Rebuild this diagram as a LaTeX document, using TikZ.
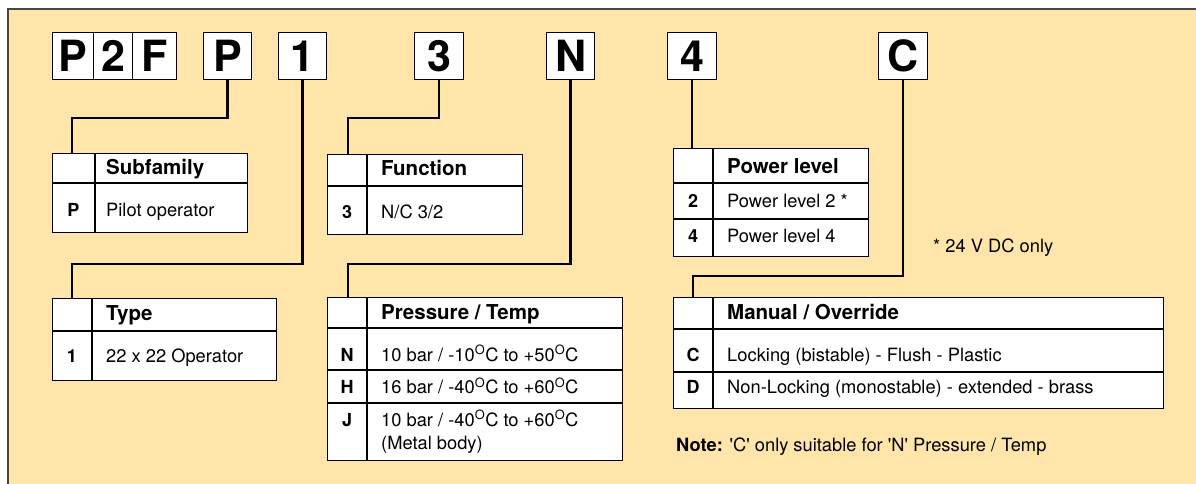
\documentclass[tikz,border=0pt]{standalone}
\usepackage{fontspec}
\setmainfont{TeX Gyre Heros}[Ligatures=TeXOff]
\definecolor{bgc}{RGB}{255,229,170}
\definecolor{framec}{RGB}{70,70,70}
\begin{document}
\begin{tikzpicture}[x=1pt,y=-1pt,
  keybox/.style={draw=black, line width=1.2pt, fill=white, inner sep=0pt, anchor=north west,
    minimum height=47pt, font=\fontsize{43}{43}\selectfont\bfseries, text height=31pt, text depth=0pt},
  tbl/.style={draw=black, line width=1.2pt, fill=white, inner sep=0pt, anchor=north west},
  tline/.style={draw=black, line width=1.1pt},
  conn/.style={draw=black, line width=2.4pt},
  txt/.style={inner sep=0pt, anchor=west, text height=13pt, text depth=0pt, font=\fontsize{18.3}{21}\selectfont},
  htxt/.style={inner sep=0pt, anchor=west, text height=14.7pt, text depth=0pt, font=\fontsize{20.5}{23}\selectfont\bfseries},
  ctxt/.style={inner sep=0pt, anchor=center, text height=13pt, text depth=0pt, font=\fontsize{18}{21}\selectfont\bfseries},
]
\useasboundingbox (0,0) rectangle (1196,484);
\clip (0,0) rectangle (1196,484);
\fill[white] (0,0) rectangle (1196,484);
\draw[fill=bgc, draw=framec, line width=1.5pt] (8,9) rectangle (1220,510);

% key boxes
\node[keybox, minimum width=41pt] (k1) at (52,32) {P};
\node[keybox, minimum width=39pt] (k2) at (93,32) {2};
\node[keybox, minimum width=44pt] (k3) at (132,32) {F};
\node[keybox, minimum width=48pt] (kP) at (203,32) {P};
\node[keybox, minimum width=48pt] (kOne) at (278,32) {1};
\node[keybox, minimum width=49pt] (kThree) at (414,32) {3};
\node[keybox, minimum width=48pt] (kN) at (546,32) {N};
\node[keybox, minimum width=49pt] (kFour) at (667,32) {4};
\node[keybox, minimum width=49pt] (kC) at (878,32) {C};

% tables
\node[tbl, minimum width=195pt, minimum height=79pt] (sub) at (52,153) {};
\draw[tline] (95,153) -- (95,232);
\draw[tline] (52,183) -- (247,183);
\node[htxt] (subh) at (106,167) {Subfamily};
\node[ctxt] (subc) at (73.5,209.5) {P};
\node[txt] (subt) at (106,209.5) {Pilot operator};

\node[tbl, minimum width=224pt, minimum height=82pt] (typ) at (52,298) {};
\draw[tline] (92,298) -- (92,380);
\draw[tline] (52,331) -- (276,331);
\node[htxt] (typh) at (106,313) {Type};
\node[ctxt] (typc) at (72,355.5) {1};
\node[txt] (typt) at (106,355.5) {22 x 22 Operator};

\node[tbl, minimum width=195pt, minimum height=80pt] (fun) at (327,154) {};
\draw[tline] (367,154) -- (367,234);
\draw[tline] (327,186) -- (522,186);
\node[htxt] (funh) at (381,168.5) {Function};
\node[ctxt] (func) at (347,211.5) {3};
\node[txt] (funt) at (381,211.5) {N/C 3/2};

\node[tbl, minimum width=295pt, minimum height=163pt] (pre) at (327,297) {};
\draw[tline] (367,297) -- (367,460);
\draw[tline] (327,328) -- (622,328);
\draw[tline] (327,370) -- (622,370);
\draw[tline] (327,403) -- (622,403);
\node[htxt] (preh) at (381,312) {Pressure / Temp};
\node[ctxt] (prec1) at (347,354.5) {N};
\node[txt] (pret1) at (381,354.5) {10 bar / -10\textsuperscript{O}C to +50\textsuperscript{O}C};
\node[ctxt] (prec2) at (347,387) {H};
\node[txt] (pret2) at (381,387) {16 bar / -40\textsuperscript{O}C to +60\textsuperscript{O}C};
\node[ctxt] (prec3) at (347,419.5) {J};
\node[txt] (pret3) at (381,419.5) {10 bar / -40\textsuperscript{O}C to +60\textsuperscript{O}C};
\node[txt] (pret4) at (381,443) {(Metal body)};

\node[tbl, minimum width=195pt, minimum height=108pt] (pow) at (673,148) {};
\draw[tline] (713,148) -- (713,256);
\draw[tline] (673,183) -- (868,183);
\node[htxt] (powh) at (727,166.5) {Power level};
\draw[tline] (673,219) -- (868,219);
\node[ctxt] (powc1) at (693,201) {2};
\node[txt] (powt1) at (727,201) {Power level 2 *};
\node[ctxt] (powc2) at (693,236) {4};
\node[txt] (powt2) at (727,236) {Power level 4};
\node[txt] (foot) at (933,245.5) {* 24 V DC only};

\node[tbl, minimum width=490pt, minimum height=111pt] (man) at (673,297) {};
\draw[tline] (713,297) -- (713,408);
\draw[tline] (673,329) -- (1163,329);
\draw[tline] (673,372) -- (1163,372);
\node[htxt] (manh) at (727,312) {Manual / Override};
\node[ctxt] (manc1) at (693,354.5) {C};
\node[txt] (mant1) at (727,354.5) {Locking (bistable) - Flush - Plastic};
\node[ctxt] (manc2) at (693,386.5) {D};
\node[txt] (mant2) at (727,386.5) {Non-Locking (monostable) - extended - brass};
\node[txt] (note) at (676,445) {\textbf{Note:} 'C' only suitable for 'N' Pressure / Temp};

% connectors
\coordinate (jP) at (72,118);
\draw[conn] (kP.south) |- (jP) -- (jP |- sub.north);
\coordinate (jOne) at (72,264);
\draw[conn] (kOne.south) |- (jOne) -- (jOne |- typ.north);
\coordinate (jThree) at (348,118);
\draw[conn] (kThree.south) |- (jThree) -- (jThree |- fun.north);
\coordinate (jN) at (348,264);
\draw[conn] (kN.south) |- (jN) -- (jN |- pre.north);
\draw[conn] (kFour.south) -- (kFour.south |- pow.north);
\coordinate (jC) at (693,276);
\draw[conn] (kC.south) |- (jC) -- (jC |- man.north);
\end{tikzpicture}
\end{document}
